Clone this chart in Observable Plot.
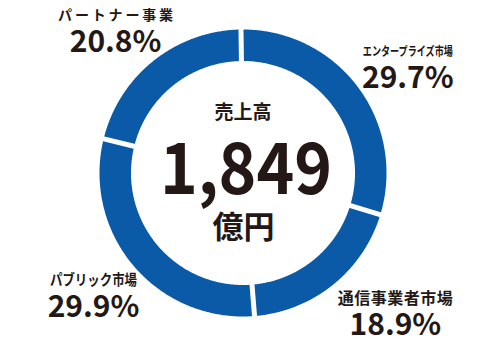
<!DOCTYPE html>
<html><head><meta charset="utf-8">
<script src="https://cdn.jsdelivr.net/npm/d3@7"></script>
<script src="https://cdn.jsdelivr.net/npm/@observablehq/plot@0.6"></script>
<style>body{margin:0;background:#fff}svg{display:block}</style>
</head><body><div id="chart"></div>
<script>
// ---- data ----
const categories = ["エンタープライズ市場", "通信事業者市場", "パブリック市場", "パートナー事業"];
const shares = [29.7, 18.9, 29.9, 20.8];
const shareLabels = ["29.7%", "18.9%", "29.9%", "20.8%"];
const centerTitle = "売上高";
const totalLabel = "1,849";
const unitLabel = "億円";

// ---- layout / style ----
const W = 498, H = 339;
const cx = 242.5, cy = 172.5;
const R = 143.5, r = 112;
const startOffset = -0.8;
const blue = "#0b5aa8", ink = "#231815";
const font = "'Noto Sans CJK JP', 'Noto Sans', sans-serif";
const labelRadius = 195;
const labelNudge = [[9, 10], [30, -12], [-1, -5], [-6, 9]];
const nameLengths = [90, 115, 87, 115];
const nameSizes = [12.5, 16, 14.5, 14];
const nameCondense = ["spacingAndGlyphs", "spacing", "spacingAndGlyphs", "spacing"];

const total = d3.sum(shares);
const rad = a => a * Math.PI / 180;
const polar = (a, rr) => ({x: rr * Math.sin(rad(a)), y: rr * Math.cos(rad(a))});

let acc = startOffset;
const segs = shares.map((v, i) => {
  const a0 = acc, a1 = acc + v / total * 360;
  acc = a1;
  return {i, cat: categories[i], a0, a1, mid: (a0 + a1) / 2};
});

const ringPts = [];
for (const s of segs) {
  const n = Math.ceil((s.a1 - s.a0) / 0.5);
  for (let k = 0; k <= n; k++) { const a = s.a0 + (s.a1 - s.a0) * k / n; ringPts.push({cat: s.cat, ...polar(a, R)}); }
  for (let k = n; k >= 0; k--) { const a = s.a0 + (s.a1 - s.a0) * k / n; ringPts.push({cat: s.cat, ...polar(a, r)}); }
}
const seps = segs.map(s => {
  const p1 = polar(s.a0, r - 4), p2 = polar(s.a0, R + 4);
  return {x1: p1.x, y1: p1.y, x2: p2.x, y2: p2.y};
});
const labels = segs.map((s, i) => {
  const p = polar(s.mid, labelRadius);
  return {name: s.cat, pct: shareLabels[i], x: p.x + labelNudge[i][0], y: p.y - labelNudge[i][1]};
});

const plot = Plot.plot({
  width: W, height: H,
  margin: 0,
  x: {type: "linear", domain: [-cx, W - cx], range: [0, W], axis: null},
  y: {type: "linear", domain: [cy - H, cy], range: [H, 0], axis: null},
  style: {fontFamily: font, background: "#fff"},
  marks: [
    Plot.line(ringPts, {x: "x", y: "y", z: "cat", fill: blue, stroke: "none", curve: "linear-closed"}),
    Plot.link(seps, {x1: "x1", y1: "y1", x2: "x2", y2: "y2", stroke: "#fff", strokeWidth: 5}),
    Plot.text(labels, {x: "x", y: "y", text: "name", dy: -14, fill: ink, fontWeight: 700, fontSize: (d, i) => nameSizes[i], className: "names", textAnchor: "middle", lineAnchor: "middle"}),
    Plot.text(labels, {x: "x", y: "y", text: "pct", dy: 13, fill: ink, fontWeight: 700, fontSize: 30, className: "pcts", textAnchor: "middle", lineAnchor: "middle"}),
    Plot.text([centerTitle], {x: () => 0, y: () => 0, text: d => d, dx: 0, dy: -60.5, fill: ink, fontWeight: 700, fontSize: 19, textAnchor: "middle", lineAnchor: "middle"}),
    Plot.text([totalLabel], {x: () => 0, y: () => 0, text: d => d, dx: 3, dy: -1.5, fill: ink, fontWeight: 700, fontSize: 71, className: "total", textAnchor: "middle", lineAnchor: "middle"}),
    Plot.text([unitLabel], {x: () => 0, y: () => 0, text: d => d, dx: 0.5, dy: 55.5, fill: ink, fontWeight: 700, fontSize: 31, textAnchor: "middle", lineAnchor: "middle"})
  ]
});
plot.querySelectorAll(".names text").forEach((t, i) => {
  t.setAttribute("textLength", nameLengths[i]);
  t.setAttribute("lengthAdjust", nameCondense[i]);
});
plot.querySelectorAll(".total text").forEach(t => {
  t.setAttribute("textLength", 172);
  t.setAttribute("lengthAdjust", "spacingAndGlyphs");
});
document.getElementById("chart").appendChild(plot);
</script></body></html>
